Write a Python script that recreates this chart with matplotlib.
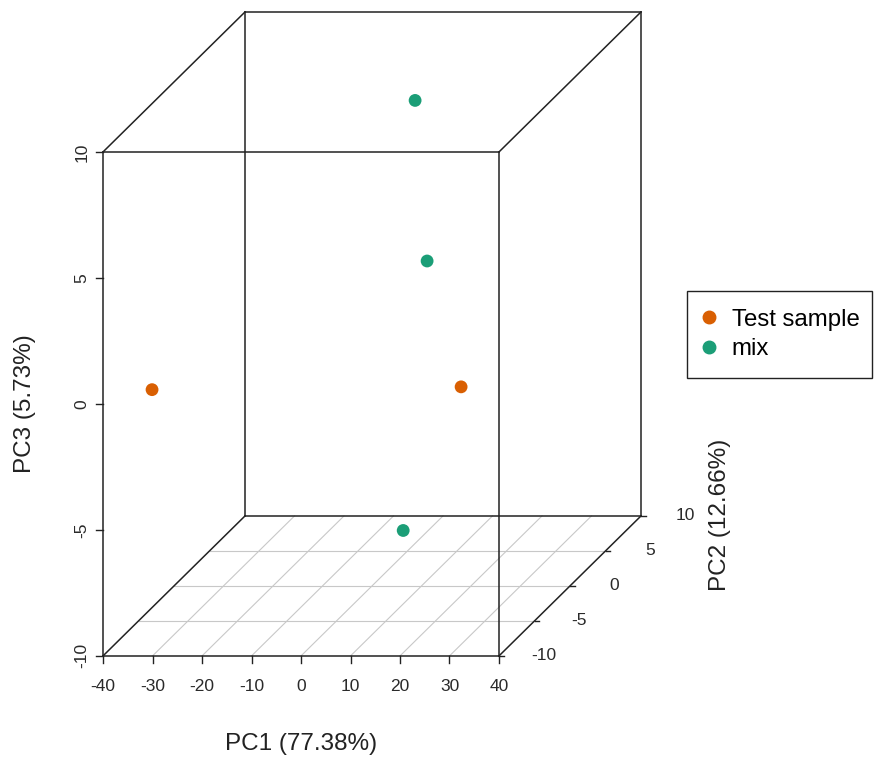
import numpy as np
import matplotlib.pyplot as plt
from matplotlib.patches import Rectangle

plt.rcParams['font.family'] = ['Liberation Sans', 'DejaVu Sans']

# PCA scores
groups = ["Test sample", "Test sample", "mix", "mix", "mix"]
pc1 = [-38.7, 18.0, 0.1, 14.0, 6.3]
pc2 = [-4.0, 0.0, 6.0, -2.0, 0.0]
pc3 = [-1.1, -2.1, 7.6, 3.45, -7.8]

legend_names = ["Test sample", "mix"]
legend_colors = ["#D95F02", "#1B9E77"]

x_ticks = [-40, -30, -20, -10, 0, 10, 20, 30, 40]
y_ticks = [-10, -5, 0, 5, 10]
z_ticks = [-10, -5, 0, 5, 10]

xlab = "PC1 (77.38%)"
ylab = "PC2 (12.66%)"
zlab = "PC3 (5.73%)"

# oblique projection like scatterplot3d: depth (PC2) shifts right and up
DX = 28.69
DZ = 5.556


def proj(x, y, z):
    d = (np.asarray(y, float) - y_ticks[0]) / (y_ticks[-1] - y_ticks[0])
    return np.asarray(x, float) + DX * d, np.asarray(z, float) + DZ * d


W, H = 874, 761
fig = plt.figure(figsize=(W / 100, H / 100), dpi=100)
ax = fig.add_axes([0, 0, 1, 1])
ax.set_xlim(-60.81, 115.76)
ax.set_ylim(-14.17, 16.03)
ax.axis('off')

x0, x1 = x_ticks[0], x_ticks[-1]
y0, y1 = y_ticks[0], y_ticks[-1]
z0, z1 = z_ticks[0], z_ticks[-1]

# grid on the floor
for xv in x_ticks[1:-1]:
    px, pz = proj([xv, xv], [y0, y1], [z0, z0])
    ax.plot(px, pz, color='#c8c8c8', lw=0.8, zorder=1)
for yv in y_ticks[1:-1]:
    px, pz = proj([x0, x1], [yv, yv], [z0, z0])
    ax.plot(px, pz, color='#c8c8c8', lw=0.8, zorder=1)

# box edges
edges = []
for yv in (y0, y1):
    for zv in (z0, z1):
        edges.append(([x0, x1], [yv, yv], [zv, zv]))
for xv in (x0, x1):
    for zv in (z0, z1):
        edges.append(([xv, xv], [y0, y1], [zv, zv]))
for xv in (x0, x1):
    for yv in (y0, y1):
        edges.append(([xv, xv], [yv, yv], [z0, z1]))
for e in edges:
    px, pz = proj(*e)
    ax.plot(px, pz, color='#222222', lw=1.1, zorder=2)

tfs = 12.5
# x ticks
for xv in x_ticks:
    px, pz = proj([xv, xv], [y0, y0], [z0, z0 - 0.28])
    ax.plot(px, pz, color='#222222', lw=1.0)
    ax.text(px[0], z0 - 1.2, str(xv), ha='center', va='center', fontsize=tfs, color='#2a2a2a')
# z ticks
for zv in z_ticks:
    ax.plot([x0, x0 - 1.4], [zv, zv], color='#222222', lw=1.0)
    ax.text(x0 - 4.2, zv, str(zv), ha='center', va='center', rotation=90,
            fontsize=tfs, color='#2a2a2a')
# y ticks
for yv in y_ticks:
    px, pz = proj([x1, x1 + 1.0], [yv, yv], [z0, z0])
    ax.plot(px, pz, color='#222222', lw=1.0)
    ax.text(px[0] + 9.0, pz[0], str(yv), ha='center', va='center', fontsize=tfs, color='#2a2a2a')

lfs = 17.5
ax.text(0, -13.5, xlab, ha='center', va='center', fontsize=lfs, color='#222222')
ax.text(-55.8, 0, zlab, ha='center', va='center', rotation=90, fontsize=lfs, color='#222222')
ax.text(84.6, -4.4, ylab, ha='center', va='center', rotation=90, fontsize=lfs, color='#222222')

# points
cmap = dict(zip(legend_names, legend_colors))
px, pz = proj(pc1, pc2, pc3)
ax.scatter(px, pz, s=85, c=[cmap[g] for g in groups], edgecolors='none', zorder=5)

# legend (frame drawn separately, R-style padding)
handles = [plt.Line2D([], [], marker='o', ls='none', color=c, markersize=9) for c in legend_colors]
fig.legend(handles, legend_names, loc='center left', bbox_to_anchor=(698 / W, 1 - 334.5 / H),
           borderaxespad=0, borderpad=0, fontsize=17.3, frameon=False,
           handlelength=0.9, handletextpad=0.5, labelspacing=0.3)
fig.add_artist(Rectangle((687 / W, 1 - 378 / H), 185 / W, 87 / H, transform=fig.transFigure,
                         fill=False, edgecolor='#222222', lw=1.0))

fig.savefig('out.png', dpi=100)
